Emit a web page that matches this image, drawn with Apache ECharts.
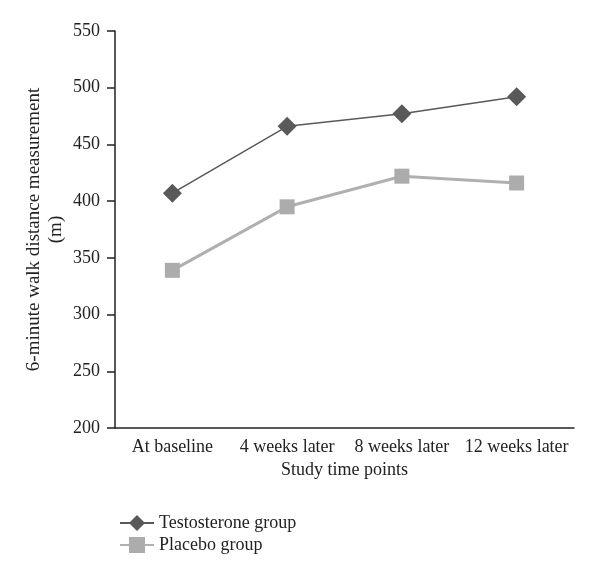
<!DOCTYPE html>
<html><head><meta charset="utf-8">
<script src="https://cdn.jsdelivr.net/npm/echarts@6/dist/echarts.min.js"></script>
<style>html,body{margin:0;padding:0;background:#fff}#c{width:600px;height:578px}</style>
</head><body><div id="c"></div>
<script>
var categories = ['At baseline', '4 weeks later', '8 weeks later', '12 weeks later'];
var testosterone = [407, 466, 477, 492];
var placebo = [339, 395, 422, 416];
var seriesNames = ['Testosterone group', 'Placebo group'];
var font = 'Liberation Serif';
var chart = echarts.init(document.getElementById('c'));
chart.setOption({
  backgroundColor: '#fff',
  animation: false,
  textStyle: {fontFamily: font},
  grid: {left: 115, right: 26, top: 31, bottom: 150},
  legend: {
    orient: 'vertical', left: 114, top: 509, itemGap: 4, itemWidth: 34, itemHeight: 20,
    textStyle: {fontFamily: font, fontSize: 18, color: '#222'},
    data: seriesNames
  },
  xAxis: {
    type: 'category', data: categories, boundaryGap: true,
    name: 'Study time points', nameLocation: 'middle', nameGap: 31,
    nameTextStyle: {fontFamily: font, fontSize: 18, color: '#222'},
    axisLine: {lineStyle: {color: '#222', width: 1.5}},
    axisTick: {show: false},
    axisLabel: {fontFamily: font, fontSize: 18, color: '#222', margin: 10, interval: 0}
  },
  yAxis: {
    type: 'value', min: 200, max: 550, interval: 50,
    name: '6-minute walk distance measurement\n(m)', nameLocation: 'middle', nameGap: 48,
    nameMoveOverlap: false,
    nameTextStyle: {fontFamily: font, fontSize: 19, color: '#222', lineHeight: 22},
    axisLine: {show: true, lineStyle: {color: '#222', width: 1.5}},
    axisTick: {show: true, length: 8, lineStyle: {color: '#222', width: 1.5}},
    splitLine: {show: false},
    axisLabel: {fontFamily: font, fontSize: 18, color: '#222', margin: 15}
  },
  series: [
    {
      name: seriesNames[0], type: 'line', data: testosterone,
      symbol: 'diamond', symbolSize: 19,
      itemStyle: {color: '#595959'},
      lineStyle: {color: '#595959', width: 1.5}
    },
    {
      name: seriesNames[1], type: 'line', data: placebo,
      symbol: 'rect', symbolSize: 15,
      itemStyle: {color: '#acacac'},
      lineStyle: {color: '#b0b0b0', width: 3}
    }
  ]
});
</script></body></html>
